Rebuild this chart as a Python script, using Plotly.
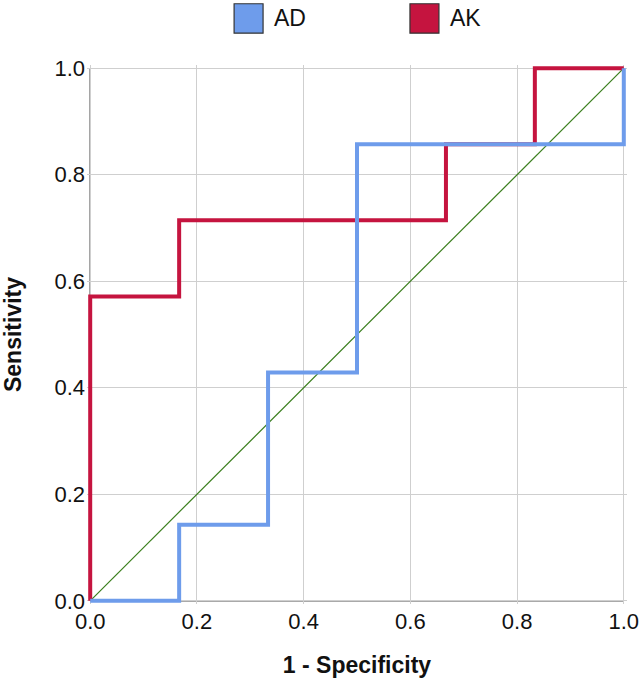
import plotly.graph_objects as go

# ROC step coordinates (1 - Specificity, Sensitivity)
ad_x = [0.0, 0.1667, 0.1667, 0.3333, 0.3333, 0.5, 0.5, 1.0, 1.0]
ad_y = [0.0, 0.0, 0.1429, 0.1429, 0.4286, 0.4286, 0.8571, 0.8571, 1.0]
ak_x = [0.0, 0.0, 0.1667, 0.1667, 0.6667, 0.6667, 0.8333, 0.8333, 1.0]
ak_y = [0.0, 0.5714, 0.5714, 0.7143, 0.7143, 0.8571, 0.8571, 1.0, 1.0]
ref_x = [0.0, 1.0]
ref_y = [0.0, 1.0]
series_names = ["AD", "AK"]
tick_vals = [0.0, 0.2, 0.4, 0.6, 0.8, 1.0]
tick_text = ["0.0", "0.2", "0.4", "0.6", "0.8", "1.0"]

BLUE = "#6E9CEB"
RED = "#C5143F"
GREEN = "#3B7F1E"
FONT = "Liberation Sans, Arial, sans-serif"

W, H = 641, 678
X0, X1, Y1, Y0 = 90, 624, 68, 601
PAD = 0.006
span_x = (X1 - X0)
span_y = (Y0 - Y1)
L = X0 - PAD * span_x
R = W - (X1 + PAD * span_x)
T = Y1 - PAD * span_y
B = H - (Y0 + PAD * span_y)
pw, ph = W - L - R, H - T - B

fig = go.Figure()
fig.add_trace(go.Scatter(x=ref_x, y=ref_y, mode="lines",
                         line=dict(color=GREEN, width=1.2), showlegend=False, hoverinfo="skip"))
fig.add_trace(go.Scatter(x=ak_x, y=ak_y, mode="lines", name=series_names[1],
                         line=dict(color=RED, width=4), showlegend=False))
fig.add_trace(go.Scatter(x=ad_x, y=ad_y, mode="lines", name=series_names[0],
                         line=dict(color=BLUE, width=4), showlegend=False))

# axis lines at data 0 (left and bottom)
fig.add_shape(type="line", xref="x", yref="y", x0=0, x1=0, y0=0, y1=1,
              line=dict(color="#222222", width=1.2), layer="below")
fig.add_shape(type="line", xref="x", yref="y", x0=0, x1=1, y0=0, y1=0,
              line=dict(color="#555555", width=1.2), layer="below")

def px2paper_x(px):
    return (px - L) / pw

def px2paper_y(py):
    return (H - B - py) / ph

legend_items = [(series_names[0], BLUE, 234), (series_names[1], RED, 410)]
for name, col, x0 in legend_items:
    fig.add_shape(type="rect", xref="paper", yref="paper",
                  x0=px2paper_x(x0), x1=px2paper_x(x0 + 29),
                  y0=px2paper_y(33), y1=px2paper_y(3.5),
                  fillcolor=col, line=dict(color="#333333", width=1.2))
    fig.add_annotation(xref="paper", yref="paper", x=px2paper_x(x0 + 38), y=px2paper_y(18),
                       text=name, showarrow=False, xanchor="left", yanchor="middle",
                       font=dict(family=FONT, size=23, color="#111111"))

axis_common = dict(range=[-PAD, 1 + PAD], tickvals=tick_vals, ticktext=tick_text,
                   showgrid=True, gridcolor="#CFCFCF", gridwidth=1,
                   zeroline=False, showline=False, automargin=False,
                   ticks="", tickfont=dict(family=FONT, size=22, color="#111111"),
                   fixedrange=True)

fig.update_layout(
    width=W, height=H,
    margin=dict(l=L, r=R, t=T, b=B, pad=0, autoexpand=False),
    paper_bgcolor="white", plot_bgcolor="white",
    xaxis=dict(**axis_common, ticklabelstandoff=2,
               title=dict(text="<b>1 - Specificity</b>", standoff=24,
                          font=dict(family=FONT, size=23, color="#111111"))),
    yaxis=dict(**axis_common, ticklabelstandoff=1,
               title=dict(text="<b>Sensitivity</b>", standoff=26,
                          font=dict(family=FONT, size=23, color="#111111"))),
    showlegend=False,
)

fig.write_html("out.html",
               config={"displayModeBar": False},
               post_script="document.body.style.margin='0';document.body.style.overflow='hidden';")
